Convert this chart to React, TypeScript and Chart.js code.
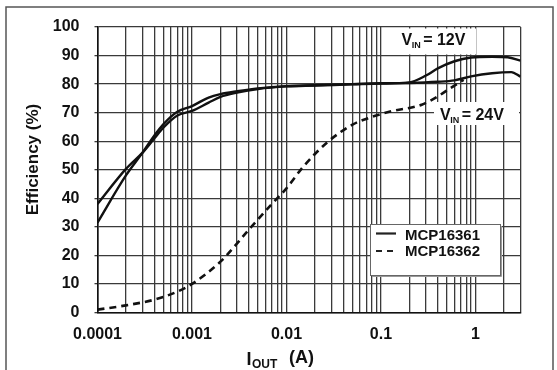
import React, { useEffect, useRef } from "react";
import { Chart, registerables } from "chart.js";

Chart.register(...registerables);

const FONT = '"Liberation Sans", Arial, Helvetica, sans-serif';

// MCP16361, VIN = 12V (solid)
const solid12Current = [0.0001, 0.0002, 0.0003, 0.0004, 0.0005, 0.0007, 0.001, 0.0015, 0.002, 0.003, 0.005, 0.01, 0.02, 0.05, 0.1, 0.2, 0.3, 0.4, 0.6, 0.9, 1.5, 2.2, 3];
const solid12Eff = [38, 50.3, 56, 61, 64.8, 69, 70.6, 73.5, 75.5, 77, 78.3, 79.2, 79.5, 79.9, 80.2, 80.6, 83, 85.5, 88, 89.3, 89.6, 89.4, 88.2];

// MCP16361, VIN = 24V (solid)
const solid24Current = [0.0001, 0.0002, 0.0003, 0.0004, 0.0005, 0.0007, 0.001, 0.0015, 0.002, 0.003, 0.005, 0.01, 0.02, 0.05, 0.1, 0.2, 0.4, 0.6, 0.9, 1.5, 2.4, 3];
const solid24Eff = [31.5, 48, 56, 62, 66, 70.3, 72.3, 75.3, 76.5, 77.5, 78.5, 79.3, 79.6, 80, 80.3, 80.4, 80.8, 81.3, 82.7, 83.8, 84.2, 82.6];

// MCP16362, VIN = 24V (dashed)
const dashedCurrent = [0.0001, 0.0002, 0.0004, 0.0007, 0.001, 0.002, 0.004, 0.007, 0.01, 0.015, 0.027, 0.05, 0.08, 0.13, 0.27, 0.4, 0.55, 0.75];
const dashedEff = [1, 2.5, 4.5, 7.3, 10, 17.8, 29, 38, 43.5, 51, 59.6, 65.8, 68.5, 70.5, 72.8, 75.7, 78.7, 81.5];

const xDecades = [0.0001, 0.001, 0.01, 0.1, 1];
const xTickLabels = ["0.0001", "0.001", "0.01", "0.1", "1"];
const xMin = 0.0001;
const xMax = 3;
const yMin = 0;
const yMax = 100;
const yStep = 10;

const legendLabels = ["MCP16361", "MCP16362"];
const yTitle = "Efficiency (%)";

const toPoints = (xs: number[], ys: number[]) => xs.map((x, i) => ({ x, y: ys[i] }));

const isKeptTick = (v: number) => {
  if (Math.abs(v - xMax) < 1e-9) return true;
  const e = Math.floor(Math.log10(v) + 1e-9);
  const m = v / Math.pow(10, e);
  return Math.abs(m - Math.round(m)) < 1e-6;
};

function drawVin(ctx: CanvasRenderingContext2D, x: number, base: number, value: string) {
  ctx.fillStyle = "#111";
  ctx.textBaseline = "alphabetic";
  ctx.textAlign = "left";
  ctx.font = `bold 16px ${FONT}`;
  ctx.fillText("V", x, base);
  const w1 = ctx.measureText("V").width;
  ctx.font = `bold 9px ${FONT}`;
  ctx.fillText("IN", x + w1 - 0.5, base + 3);
  const w2 = ctx.measureText("IN").width;
  ctx.font = `bold 16px ${FONT}`;
  ctx.fillText("= " + value, x + w1 + w2 + 2, base);
}

const decorPlugin = {
  id: "decor",
  beforeDraw(chart: any) {
    const ctx = chart.ctx as CanvasRenderingContext2D;
    ctx.save();
    ctx.fillStyle = "#fff";
    ctx.fillRect(0, 0, chart.width, chart.height);
    ctx.strokeStyle = "#555";
    ctx.lineWidth = 1.5;
    ctx.strokeRect(6, 7, 547, 380);
    ctx.restore();
  },
  beforeDatasetsDraw(chart: any) {
    const ctx = chart.ctx as CanvasRenderingContext2D;
    ctx.save();
    ctx.fillStyle = "#fff";
    // label backgrounds
    ctx.fillRect(394, 28.5, 82, 26);
    ctx.fillRect(434, 102, 85, 23);
    // legend box
    ctx.fillRect(370.5, 224.5, 130, 51);
    ctx.strokeStyle = "#666";
    ctx.lineWidth = 1;
    ctx.strokeRect(370.5, 224.5, 130, 51);
    ctx.strokeStyle = "#999";
    ctx.beginPath();
    ctx.moveTo(501.5, 226);
    ctx.lineTo(501.5, 276.5);
    ctx.lineTo(372, 276.5);
    ctx.stroke();
    ctx.restore();
  },
  afterDraw(chart: any) {
    const ctx = chart.ctx as CanvasRenderingContext2D;
    ctx.save();
    // VIN labels
    drawVin(ctx, 401.5, 45, "12V");
    drawVin(ctx, 440, 119.5, "24V");

    // legend
    ctx.strokeStyle = "#222";
    ctx.lineWidth = 2.2;
    ctx.beginPath();
    ctx.moveTo(376, 233.5);
    ctx.lineTo(396, 233.5);
    ctx.stroke();
    ctx.setLineDash([6, 5]);
    ctx.beginPath();
    ctx.moveTo(376, 251);
    ctx.lineTo(398, 251);
    ctx.stroke();
    ctx.setLineDash([]);
    ctx.fillStyle = "#111";
    ctx.font = `bold 15px ${FONT}`;
    ctx.textAlign = "left";
    ctx.textBaseline = "middle";
    ctx.fillText(legendLabels[0], 405, 235.5);
    ctx.fillText(legendLabels[1], 405, 251.5);

    // y axis title
    ctx.save();
    ctx.translate(33, 159.5);
    ctx.rotate(-Math.PI / 2);
    ctx.font = `bold 17px ${FONT}`;
    ctx.textAlign = "center";
    ctx.textBaseline = "middle";
    ctx.fillText(yTitle, 0, 0);
    ctx.restore();

    // x axis title: I_OUT (A)
    ctx.textAlign = "left";
    ctx.textBaseline = "alphabetic";
    ctx.font = `bold 18px ${FONT}`;
    ctx.fillText("I", 246.5, 365);
    ctx.font = `bold 12px ${FONT}`;
    ctx.fillText("OUT", 252, 368);
    ctx.font = `bold 18px ${FONT}`;
    ctx.fillText("(A)", 289, 363);
    ctx.restore();
  },
};

export default function App() {
  const canvasRef = useRef<HTMLCanvasElement | null>(null);

  useEffect(() => {
    if (!canvasRef.current) return;
    const chart = new Chart(canvasRef.current, {
      type: "line",
      data: {
        datasets: [
          {
            label: "MCP16361 12V",
            data: toPoints(solid12Current, solid12Eff),
            borderColor: "#111",
            borderWidth: 2.4,
            pointRadius: 0,
            cubicInterpolationMode: "monotone",
            fill: false,
          },
          {
            label: "MCP16361 24V",
            data: toPoints(solid24Current, solid24Eff),
            borderColor: "#111",
            borderWidth: 2.4,
            pointRadius: 0,
            cubicInterpolationMode: "monotone",
            fill: false,
          },
          {
            label: "MCP16362 24V",
            data: toPoints(dashedCurrent, dashedEff),
            borderColor: "#111",
            borderWidth: 2.6,
            borderDash: [7, 5],
            pointRadius: 0,
            cubicInterpolationMode: "monotone",
            fill: false,
          },
        ],
      },
      options: {
        responsive: false,
        animation: false,
        devicePixelRatio: 1,
        layout: { padding: { left: 0, top: 27, right: 36.5, bottom: 0 } },
        plugins: {
          legend: { display: false },
          tooltip: { enabled: false },
        },
        scales: {
          x: {
            type: "logarithmic",
            min: xMin,
            max: xMax,
            afterFit: (scale: any) => {
              scale.height = 57.5;
            },
            afterBuildTicks: (scale: any) => {
              scale.ticks = scale.ticks.filter((t: any) => isKeptTick(t.value));
            },
            grid: {
              color: "#3a3a3a",
              lineWidth: 1.3,
              drawTicks: false,
            },
            border: { display: true, color: "#111", width: 1.6 },
            ticks: {
              autoSkip: false,
              maxRotation: 0,
              minRotation: 0,
              padding: 12,
              color: "#111",
              font: { family: FONT, size: 16, weight: "bold" },
              callback: (value: any) => {
                const v = Number(value);
                const idx = xDecades.findIndex((d) => Math.abs(Math.log10(v) - Math.log10(d)) < 1e-6);
                return idx >= 0 ? xTickLabels[idx] : "";
              },
            },
          },
          y: {
            type: "linear",
            min: yMin,
            max: yMax,
            afterFit: (scale: any) => {
              scale.width = 97.5;
            },
            grid: {
              color: "#3a3a3a",
              lineWidth: 1.3,
              drawTicks: true,
              tickLength: 3,
            },
            border: { display: true, color: "#111", width: 1.6 },
            ticks: {
              stepSize: yStep,
              padding: 15,
              color: "#111",
              font: { family: FONT, size: 16, weight: "bold" },
            },
          },
        },
      },
      plugins: [decorPlugin],
    } as any);
    return () => chart.destroy();
  }, []);

  return (
    <div style={{ position: "absolute", left: 0, top: 0, width: 557, height: 370, background: "#fff" }}>
      <canvas ref={canvasRef} width={557} height={370} style={{ display: "block", width: 557, height: 370 }} />
    </div>
  );
}
